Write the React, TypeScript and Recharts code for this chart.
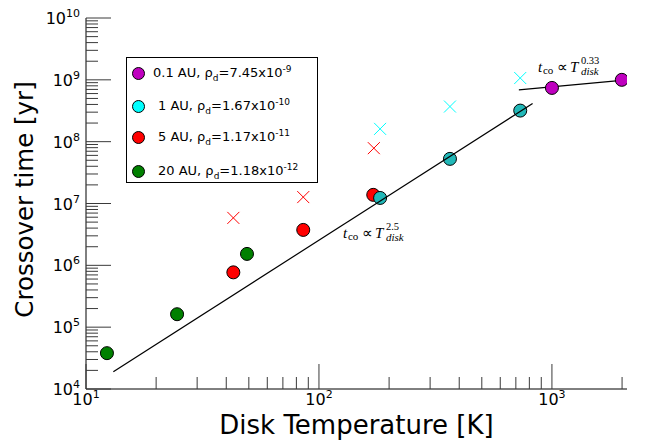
import {
  Scatter,
  XAxis,
  YAxis,
  ScatterChart,
  ReferenceDot,
} from "recharts";

type Pt = { T: number; t: number };

// crossover time vs disk temperature
const au01: Pt[] = [
  { T: 1000, t: 7.4e8 },
  { T: 1995, t: 1.0e9 },
];
const au1: Pt[] = [
  { T: 183, t: 1.23e7 },
  { T: 365, t: 5.27e7 },
  { T: 731, t: 3.18e8 },
];
const au5: Pt[] = [
  { T: 42.9, t: 7.7e5 },
  { T: 85.6, t: 3.74e6 },
  { T: 171, t: 1.38e7 },
];
const au20: Pt[] = [
  { T: 12.3, t: 3.8e4 },
  { T: 24.6, t: 1.62e5 },
  { T: 49.1, t: 1.53e6 },
];
// the x markers
const cross5: Pt[] = [
  { T: 42.9, t: 5.85e6 },
  { T: 85.6, t: 1.27e7 },
  { T: 172, t: 7.85e7 },
];
const cross1: Pt[] = [
  { T: 183, t: 1.61e8 },
  { T: 365, t: 3.7e8 },
  { T: 731, t: 1.07e9 },
];
// power law guide lines
const fitSteep: Pt[] = [
  { T: 13.1, t: 1.9e4 },
  { T: 826, t: 4.14e8 },
];
const fitFlat: Pt[] = [
  { T: 721, t: 6.89e8 },
  { T: 2100, t: 1.0e9 },
];

const xTicks = [
  10, 20, 30, 40, 50, 60, 70, 80, 90, 100, 200, 300, 400, 500, 600, 700, 800,
  900, 1000, 2000,
];
const yTicks = [
  1e4, 2e4, 3e4, 4e4, 5e4, 6e4, 7e4, 8e4, 9e4, 1e5, 2e5, 3e5, 4e5, 5e5, 6e5,
  7e5, 8e5, 9e5, 1e6, 2e6, 3e6, 4e6, 5e6, 6e6, 7e6, 8e6, 9e6, 1e7, 2e7, 3e7,
  4e7, 5e7, 6e7, 7e7, 8e7, 9e7, 1e8, 2e8, 3e8, 4e8, 5e8, 6e8, 7e8, 8e8, 9e8,
  1e9, 2e9, 3e9, 4e9, 5e9, 6e9, 7e9, 8e9, 9e9, 1e10,
];

const legendItems = [
  { name: "0.1 AU", rho: "7.45", exp: "-9", color: "#bf00bf", pad: 0 },
  { name: "1 AU", rho: "1.67", exp: "-10", color: "#00ffff", pad: 5 },
  { name: "5 AU", rho: "1.17", exp: "-11", color: "#ff0000", pad: 5 },
  { name: "20 AU", rho: "1.18", exp: "-12", color: "#008000", pad: 5 },
];

const FONT = "DejaVu Sans";
const TICK = "#3a3a3a";

const isMajor = (v: number) =>
  Math.abs(Math.log10(v) - Math.round(Math.log10(v))) < 1e-6;

const BottomTick = (props: any) => {
  const { x, y, payload } = props;
  const v = payload.value;
  const major = isMajor(v);
  return (
    <g>
      <line x1={x} x2={x} y1={y} y2={y - (major ? 25 : 12)} stroke={TICK} />
      {major && (
        <text x={x} y={y + 16} textAnchor="middle" fontFamily={FONT} fontSize={16} fill="#000">
          10
          <tspan dy={-7} fontSize={11}>
            {Math.round(Math.log10(v))}
          </tspan>
        </text>
      )}
    </g>
  );
};

const TopTick = (props: any) => {
  const { x, y, payload } = props;
  const major = isMajor(payload.value);
  return <line x1={x} x2={x} y1={y} y2={y + (major ? 25 : 12)} stroke={TICK} />;
};

const LeftTick = (props: any) => {
  const { x, y, payload } = props;
  const v = payload.value;
  const major = isMajor(v);
  return (
    <g>
      <line x1={x} x2={x + (major ? 25 : 12)} y1={y} y2={y} stroke={TICK} />
      {major && (
        <text x={x - 6} y={y + 6} textAnchor="end" fontFamily={FONT} fontSize={16} fill="#000">
          10
          <tspan dy={-7} fontSize={11}>
            {Math.round(Math.log10(v))}
          </tspan>
        </text>
      )}
    </g>
  );
};

const RightTick = (props: any) => {
  const { x, y, payload } = props;
  const major = isMajor(payload.value);
  return <line x1={x} x2={x - (major ? 25 : 12)} y1={y} y2={y} stroke={TICK} />;
};

const Dot = (fill: string) => (props: any) =>
  <circle cx={props.cx} cy={props.cy} r={6.5} fill={fill} stroke="#000" strokeWidth={1} />;

const Cross = (color: string) => (props: any) => {
  const { cx, cy } = props;
  const h = 6;
  return (
    <g stroke={color} strokeWidth={1}>
      <line x1={cx - h} y1={cy - h} x2={cx + h} y2={cy + h} />
      <line x1={cx - h} y1={cy + h} x2={cx + h} y2={cy - h} />
    </g>
  );
};

const Annot = (exp: string) => (props: any) => {
  const { x, y } = props.viewBox;
  const f = "Liberation Serif";
  return (
    <g fontFamily={f} fill="#000">
      <text x={x} y={y} fontSize={15} fontStyle="italic">t</text>
      <text x={x + 5} y={y + 2} fontSize={11}>co</text>
      <text x={x + 19} y={y} fontSize={15}>∝</text>
      <text x={x + 32} y={y} fontSize={15} fontStyle="italic">T</text>
      <text x={x + 43} y={y - 8} fontSize={10.5}>{exp}</text>
      <text x={x + 43} y={y + 3} fontSize={11} fontStyle="italic">disk</text>
    </g>
  );
};

const XTitle = (props: any) => {
  const { x, width } = props.viewBox;
  return (
    <text x={x + width / 2} y={434} textAnchor="middle" fontFamily={FONT} fontSize={26} fill="#000">
      Disk Temperature [K]
    </text>
  );
};

const YTitle = (props: any) => {
  const { y, height } = props.viewBox;
  const cy = y + height / 2 - 4;
  return (
    <text
      x={33}
      y={cy}
      transform={`rotate(-90 33 ${cy})`}
      textAnchor="middle"
      fontFamily={FONT}
      fontSize={24.5}
      fill="#000"
    >
      Crossover time [yr]
    </text>
  );
};

export default function App() {
  return (
    <div style={{ position: "absolute", left: 0, top: 0, width: 645, height: 442, background: "#fff" }}>
      <ScatterChart width={645} height={442} margin={{ top: 18, right: 18, left: 0, bottom: 0 }}>
        <XAxis
          dataKey="T"
          type="number"
          scale="log"
          domain={[10, 2100]}
          allowDataOverflow
          ticks={xTicks}
          interval={0}
          height={53}
          tickSize={0}
          tickMargin={0}
          stroke="#000"
          tick={BottomTick}
          label={{ content: XTitle }}
        />
        <XAxis
          xAxisId="top"
          orientation="top"
          type="number"
          scale="log"
          domain={[10, 2100]}
          allowDataOverflow
          ticks={xTicks}
          interval={0}
          height={0}
          tickSize={0}
          tickMargin={0}
          stroke="#000"
          tick={TopTick}
        />
        <YAxis
          dataKey="t"
          type="number"
          scale="log"
          domain={[1e4, 1e10]}
          allowDataOverflow
          ticks={yTicks}
          interval={0}
          width={86}
          tickSize={0}
          tickMargin={0}
          stroke="#000"
          tick={LeftTick}
          label={{ content: YTitle }}
        />
        <YAxis
          yAxisId="right"
          orientation="right"
          type="number"
          scale="log"
          domain={[1e4, 1e10]}
          allowDataOverflow
          ticks={yTicks}
          interval={0}
          width={0}
          tickSize={0}
          tickMargin={0}
          stroke="#000"
          tick={RightTick}
        />
        <Scatter data={cross5} shape={Cross("#ff0000")} isAnimationActive={false} />
        <Scatter data={cross1} shape={Cross("#00ffff")} isAnimationActive={false} />
        <Scatter data={au20} shape={Dot("#008000")} isAnimationActive={false} />
        <Scatter data={au5} shape={Dot("#ff0000")} isAnimationActive={false} />
        <Scatter data={au1} shape={Dot("#22b8b8")} isAnimationActive={false} />
        <Scatter
          data={fitSteep}
          line={{ stroke: "#000", strokeWidth: 1.2 }}
          shape={() => <g />}
          isAnimationActive={false}
        />
        <Scatter
          data={fitFlat}
          line={{ stroke: "#000", strokeWidth: 1.2 }}
          shape={() => <g />}
          isAnimationActive={false}
        />
        <Scatter data={au01} shape={Dot("#bf00bf")} isAnimationActive={false} />
        <ReferenceDot x={126.8} y={2.77e6} r={0} ifOverflow="visible" label={{ content: Annot("2.5") }} />
        <ReferenceDot x={871} y={1.35e9} r={0} ifOverflow="visible" label={{ content: Annot("0.33") }} />
      </ScatterChart>
      <div
        style={{
          position: "absolute",
          left: 126,
          top: 57,
          width: 190,
          height: 124,
          border: "1px solid #000",
          background: "#fff",
          fontFamily: FONT,
          fontSize: 13,
        }}
      >
        {legendItems.map((it, i) => (
          <div
            key={it.name}
            style={{
              position: "absolute",
              left: 5,
              top: [7, 40, 71, 105][i],
              display: "flex",
              alignItems: "center",
              whiteSpace: "nowrap",
              height: 16,
            }}
          >
            <span
              style={{
                width: 13,
                height: 13,
                borderRadius: "50%",
                background: it.color,
                border: "1px solid #000",
                boxSizing: "border-box",
                marginRight: 8 + it.pad,
              }}
            />
            <span>
              {it.name}, ρ<sub style={{ fontSize: 9 }}>d</sub>={it.rho}x10
              <sup style={{ fontSize: 9 }}>{it.exp}</sup>
            </span>
          </div>
        ))}
      </div>
    </div>
  );
}
